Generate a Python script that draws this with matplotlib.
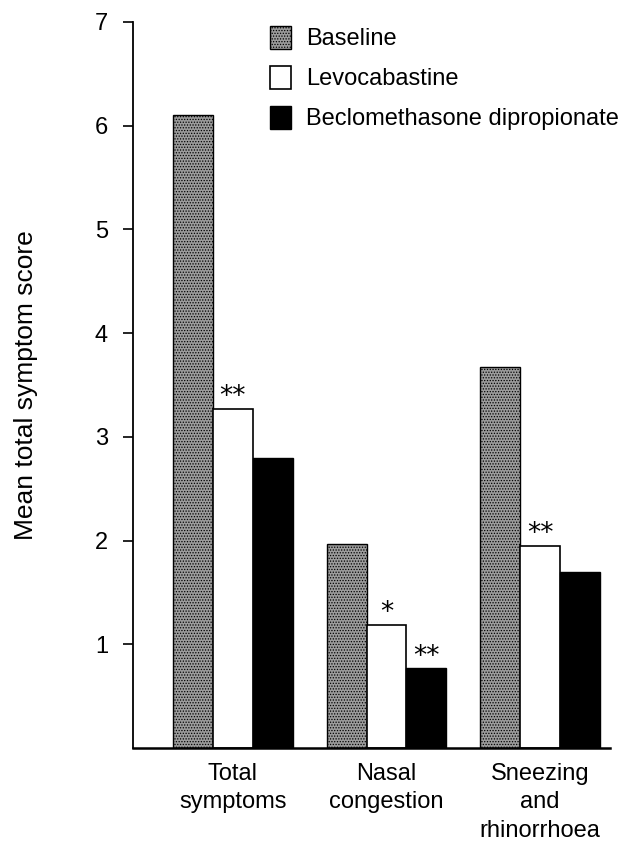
import matplotlib
matplotlib.use("Agg")
import matplotlib.pyplot as plt
import numpy as np

categories = ["Total\nsymptoms", "Nasal\ncongestion", "Sneezing\nand\nrhinorrhoea"]
series_names = ["Baseline", "Levocabastine", "Beclomethasone dipropionate"]
baseline = [6.10, 1.97, 3.67]
levocabastine = [3.27, 1.19, 1.95]
beclomethasone = [2.80, 0.77, 1.70]
levo_marks = ["**", "*", "**"]
beclo_marks = ["", "**", ""]
yticks = [1, 2, 3, 4, 5, 6, 7]

plt.rcParams['font.family'] = ['Liberation Sans', 'DejaVu Sans']
plt.rcParams['hatch.linewidth'] = 0.6
plt.rcParams['hatch.color'] = '#222222'

fig = plt.figure(figsize=(6.27, 8.41), dpi=100)
ax = fig.add_axes([133/627, 1-748/841, (610-133)/627, (748-22)/841])

x = np.arange(len(categories))
w = 0.26
fs = 17
b1 = ax.bar(x - w, baseline, w, facecolor='#9c9c9c', edgecolor='black', hatch='......', linewidth=1.0, label=series_names[0])
b2 = ax.bar(x, levocabastine, w, facecolor='white', edgecolor='black', linewidth=1.2, label=series_names[1])
b3 = ax.bar(x + w, beclomethasone, w, facecolor='black', edgecolor='black', linewidth=1.0, label=series_names[2])

for xi, v, m in zip(x, levocabastine, levo_marks):
    if m:
        ax.annotate(m, (xi, v), xytext=(0, -1), textcoords='offset points', ha='center', va='bottom',
                    fontsize=19, family='DejaVu Sans')
for xi, v, m in zip(x + w, beclomethasone, beclo_marks):
    if m:
        ax.annotate(m, (xi, v), xytext=(0, -1), textcoords='offset points', ha='center', va='bottom',
                    fontsize=19, family='DejaVu Sans')

ax.set_xlim(-0.651, 2.456)
ax.set_ylim(0, 7)
ax.set_yticks(yticks)
ax.set_yticklabels([str(t) for t in yticks], fontsize=fs)
ax.set_xticks(x)
ax.set_xticklabels(categories, fontsize=fs, linespacing=1.36, va='top')
ax.tick_params(axis='x', length=0, pad=11)
ax.tick_params(axis='y', length=7, width=1.2, pad=11, direction='out')
for s in ['top', 'right']:
    ax.spines[s].set_visible(False)
ax.spines['left'].set_linewidth(1.3)
ax.spines['bottom'].set_linewidth(1.8)
ax.set_ylabel("Mean total symptom score", fontsize=19, labelpad=41)

leg = ax.legend(loc='upper left', bbox_to_anchor=((261-133)/477, 1.008), frameon=False, fontsize=fs,
                handlelength=0.85, handleheight=1.14, labelspacing=0.65, handletextpad=0.64, borderaxespad=0)

fig.savefig("out.png", dpi=100)
